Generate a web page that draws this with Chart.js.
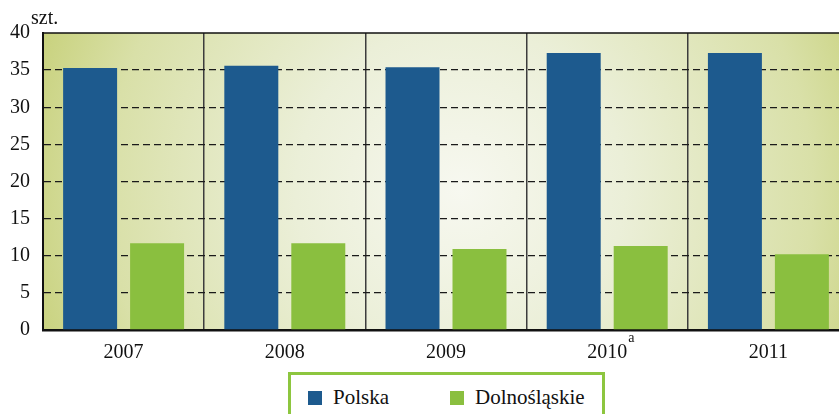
<!DOCTYPE html>
<html>
<head>
<meta charset="utf-8">
<script src="https://cdn.jsdelivr.net/npm/chart.js@4.4.1/dist/chart.umd.min.js"></script>
<style>
  html, body { margin: 0; padding: 0; background: #fff; overflow: hidden; }
  #wrap { position: relative; width: 839px; height: 414px; overflow: hidden; }
  #chart { position: absolute; left: 0; top: 0; }
  .unit { position: absolute; left: 31px; top: 6px; font: 20px "Liberation Serif", serif; color: #111; }
  .legend {
    position: absolute; left: 288px; top: 372px; width: 311px; height: 50px;
    border: 3px solid #8dc63f; background: #fff; box-sizing: content-box;
    font: 21px "Liberation Serif", serif; color: #111;
  }
  .legend .item { position: absolute; top: 10px; display: flex; align-items: center; }
  .legend .sw { width: 14px; height: 14px; margin-right: 11px; }
</style>
</head>
<body>
<div id="wrap">
  <canvas id="chart" width="850" height="414"></canvas>
  <div class="unit">szt.</div>
  <div class="legend">
    <div class="item" style="left:17px"><span class="sw" style="background:#1d5a8e"></span>Polska</div>
    <div class="item" style="left:159px"><span class="sw" style="background:#8abf3f"></span>Dolnośląskie</div>
  </div>
</div>
<script>
// Number of objects (szt.) per year
const years = ['2007', '2008', '2009', '2010', '2011'];
const polska = [35.3, 35.6, 35.4, 37.3, 37.3];
const dolnoslaskie = [11.7, 11.7, 10.9, 11.3, 10.2];
const yTicks = [0, 5, 10, 15, 20, 25, 30, 35, 40];

const SERIF = '"Liberation Serif", "Times New Roman", serif';

// Soft radial wash behind the plot
const plotBackground = {
  id: 'plotBackground',
  beforeDraw(chart) {
    const { ctx, chartArea: a } = chart;
    const cx = 460, cy = 190;
    const g = ctx.createRadialGradient(cx, cy, 0, cx, cy, 470);
    g.addColorStop(0, '#f7f8f0');
    g.addColorStop(0.35, '#ebefd8');
    g.addColorStop(0.75, '#d9e0a8');
    g.addColorStop(1, '#c4ce72');
    ctx.save();
    ctx.fillStyle = g;
    ctx.fillRect(a.left, a.top, a.right - a.left, a.bottom - a.top);
    ctx.restore();
  },
  afterDraw(chart) {
    const { ctx, chartArea: a } = chart;
    ctx.save();
    // solid top frame line
    ctx.strokeStyle = '#111';
    ctx.lineWidth = 1.5;
    ctx.beginPath();
    ctx.moveTo(a.left, a.top);
    ctx.lineTo(a.right, a.top);
    ctx.stroke();
    // footnote mark next to 2010
    const x = chart.scales.x.getPixelForValue(3);
    ctx.fillStyle = '#111';
    ctx.font = '14px ' + SERIF;
    ctx.textAlign = 'left';
    ctx.textBaseline = 'alphabetic';
    ctx.fillText('a', x + 21, 342);
    ctx.restore();
  }
};

new Chart(document.getElementById('chart'), {
  type: 'bar',
  data: {
    labels: years,
    datasets: [
      { label: 'Polska', data: polska, backgroundColor: '#1d5a8e' },
      { label: 'Dolnośląskie', data: dolnoslaskie, backgroundColor: '#8abf3f' }
    ]
  },
  options: {
    responsive: false,
    animation: false,
    devicePixelRatio: 1,
    layout: { padding: { top: 33, right: 1, bottom: 54, left: 0 } },
    datasets: { bar: { categoryPercentage: 0.831, barPercentage: 0.806 } },
    plugins: { legend: { display: false }, tooltip: { enabled: false } },
    scales: {
      x: {
        afterFit: (s) => { s.height = 30; },
        grid: { offset: true, color: '#3c3c3c', lineWidth: 1.5, drawTicks: false },
        border: { color: '#111', width: 2.5 },
        ticks: { color: '#111', font: { family: SERIF, size: 20 }, padding: 11 }
      },
      y: {
        min: 0,
        max: 40,
        afterFit: (s) => { s.width = 43; },
        afterBuildTicks: (s) => { s.ticks = yTicks.map(v => ({ value: v })); },
        grid: {
          drawTicks: false,
          color: (c) => (c.tick && (c.tick.value === 40 || c.tick.value === 0)) ? 'rgba(0,0,0,0)' : '#1a1a1a',
          lineWidth: 1.3
        },
        border: { color: '#111', width: 2, dash: [7, 4] },
        ticks: { color: '#111', font: { family: SERIF, size: 20 }, padding: 13 }
      }
    }
  },
  plugins: [plotBackground]
});
</script>
</body>
</html>
